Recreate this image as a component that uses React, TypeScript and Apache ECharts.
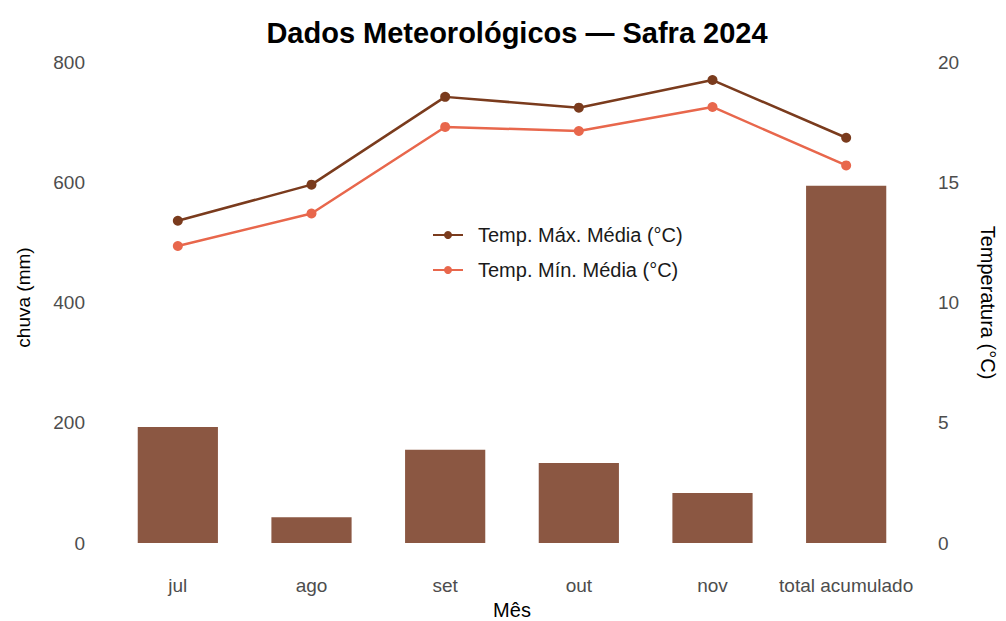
import React, { useEffect, useRef } from "react";
import * as echarts from "echarts";

const categories = ["jul", "ago", "set", "out", "nov", "total acumulado"];
const chuva = [193, 43, 155, 133, 83, 594];
const tempMax = [13.4, 14.9, 18.55, 18.1, 19.25, 16.85];
const tempMin = [12.35, 13.7, 17.3, 17.13, 18.13, 15.7];
const leftTicks = [0, 200, 400, 600, 800];
const rightTicks = [0, 5, 10, 15, 20];

const FONT = "'Liberation Sans', Arial, sans-serif";

export default function App() {
  const ref = useRef<HTMLDivElement>(null);
  useEffect(() => {
    document.body.style.margin = "0";
    const chart = echarts.init(ref.current!, null, { renderer: "svg" });
    chart.setOption({
      animation: false,
      backgroundColor: "#ffffff",
      textStyle: { fontFamily: FONT },
      title: {
        text: "Dados Meteorológicos — Safra 2024",
        left: 512,
        top: 13,
        textAlign: "center",
        textStyle: { fontFamily: FONT, fontSize: 29, fontWeight: "bold", color: "#000000" },
      },
      legend: {
        orient: "vertical",
        left: 427,
        top: 220,
        itemGap: 15,
        itemWidth: 30,
        itemHeight: 10,
        textStyle: { fontFamily: FONT, fontSize: 20, color: "#1a1a1a", padding: [0, 0, 0, 10] },
        data: ["Temp. Máx. Média (°C)", "Temp. Mín. Média (°C)"],
      },
      grid: { left: 111, right: 93, top: 62, bottom: 78, outerBoundsMode: "none", containLabel: false },
      xAxis: {
        type: "category",
        data: categories,
        name: "Mês",
        nameLocation: "middle",
        nameGap: 54,
        nameTextStyle: { fontFamily: FONT, fontSize: 20, color: "#000000" },
        axisLine: { show: false },
        axisTick: { show: false },
        axisLabel: { interval: 0, margin: 33, fontFamily: FONT, fontSize: 19, color: "#4d4d4d" },
      },
      yAxis: [
        {
          type: "value",
          min: 0,
          max: 800,
          interval: 200,
          name: "chuva (mm)",
          nameLocation: "middle",
          nameGap: 78,
          nameTextStyle: { fontFamily: FONT, fontSize: 19, color: "#000000", padding: [0, 0, 0, 10] },
          axisLine: { show: false },
          axisTick: { show: false },
          splitLine: { show: false },
          axisLabel: { margin: 26, fontFamily: FONT, fontSize: 19, color: "#4d4d4d" },
        },
        {
          type: "value",
          min: 0,
          max: 20,
          interval: 5,
          position: "right",
          name: "Temperatura (°C)",
          nameLocation: "middle",
          nameRotate: -90,
          nameGap: 65,
          nameTextStyle: { fontFamily: FONT, fontSize: 20, color: "#000000" },
          axisLine: { show: false },
          axisTick: { show: false },
          splitLine: { show: false },
          axisLabel: { margin: 25, fontFamily: FONT, fontSize: 19, color: "#4d4d4d" },
        },
      ],
      series: [
        {
          name: "chuva (mm)",
          type: "bar",
          data: chuva,
          barWidth: "60%",
          itemStyle: { color: "#8b5742" },
          yAxisIndex: 0,
        },
        {
          name: "Temp. Máx. Média (°C)",
          type: "line",
          data: tempMax,
          yAxisIndex: 1,
          symbol: "circle",
          symbolSize: 10,
          lineStyle: { color: "#7a3b1d", width: 2.5 },
          itemStyle: { color: "#7a3b1d" },
        },
        {
          name: "Temp. Mín. Média (°C)",
          type: "line",
          data: tempMin,
          yAxisIndex: 1,
          symbol: "circle",
          symbolSize: 10,
          lineStyle: { color: "#e8674c", width: 2.5 },
          itemStyle: { color: "#e8674c" },
        },
      ],
    });
    return () => chart.dispose();
  }, []);
  return <div ref={ref} style={{ width: 1006, height: 621 }} />;
}
